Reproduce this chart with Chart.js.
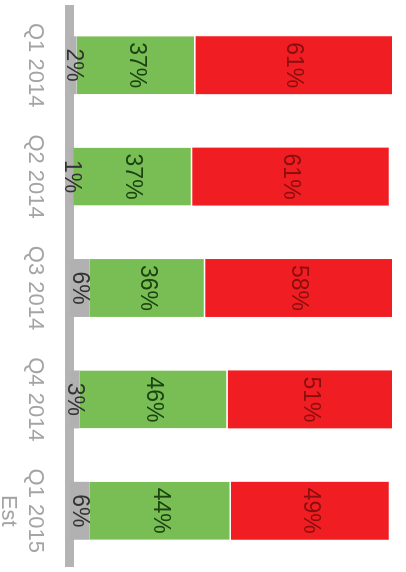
<!DOCTYPE html>
<html>
<head>
<meta charset="utf-8">
<script src="https://cdn.jsdelivr.net/npm/chart.js@4.4.0/dist/chart.umd.min.js"></script>
<style>
  html, body { margin: 0; padding: 0; background: #fff; overflow: hidden; }
  /* column chart, turned a quarter turn clockwise */
  .chart-wrap {
    position: absolute;
    left: 0;
    top: 0;
    width: 575px;
    height: 406px;
    transform-origin: 0 0;
    transform: translateX(406px) rotate(90deg);
  }
</style>
</head>
<body>
<div class="chart-wrap"><canvas id="quarterChart" width="575" height="406"></canvas></div>
<script>
// Quarterly split, percent of total
const quarters = ["Q1 2014", "Q2 2014", "Q3 2014", "Q4 2014", ["Q1 2015", "Est"]];
const neutralShare = [2, 1, 6, 3, 6];
const positiveShare = [37, 37, 36, 46, 44];
const negativeShare = [61, 61, 58, 51, 49];

const barColors = ["#b1b1b1", "#78be55", "#f01e23"];
const labelColors = ["#333333", "#1b4210", "#8a0e0e"];

// percent labels in the middle of each segment
const valueLabels = {
  id: "valueLabels",
  afterDatasetsDraw(chart) {
    const ctx = chart.ctx;
    ctx.save();
    ctx.font = "23px 'Liberation Sans', Arial, sans-serif";
    ctx.textAlign = "center";
    ctx.textBaseline = "middle";
    chart.data.datasets.forEach((ds, i) => {
      const meta = chart.getDatasetMeta(i);
      meta.data.forEach((bar, j) => {
        const mid = (bar.y + bar.base) / 2;
        ctx.fillStyle = labelColors[i];
        ctx.fillText(ds.data[j] + "%", bar.x, mid);
      });
    });
    ctx.restore();
  }
};

new Chart(document.getElementById("quarterChart"), {
  type: "bar",
  data: {
    labels: quarters,
    datasets: [
      { data: neutralShare, backgroundColor: barColors[0] },
      {
        data: positiveShare,
        backgroundColor: barColors[1],
        borderColor: "#ffffff",
        borderWidth: { top: 1.5, bottom: 0, left: 0, right: 0 },
        borderSkipped: false
      },
      { data: negativeShare, backgroundColor: barColors[2] }
    ]
  },
  options: {
    responsive: false,
    animation: false,
    layout: { padding: { top: 14, left: 9.5, right: 0, bottom: 0 } },
    datasets: {
      bar: { categoryPercentage: 1, barPercentage: 0.52 }
    },
    plugins: {
      legend: { display: false },
      tooltip: { enabled: false }
    },
    scales: {
      x: {
        stacked: true,
        grid: { display: false, drawTicks: false },
        border: { display: true, color: "#b4b4b4", width: 9 },
        ticks: {
          color: "#a4a4a4",
          padding: 22,
          font: { family: "'Liberation Sans', Arial, sans-serif", size: 22 }
        },
        afterFit(scale) { scale.height = 70; }
      },
      y: {
        stacked: true,
        display: false,
        min: 0,
        max: 100
      }
    }
  },
  plugins: [valueLabels]
});
</script>
</body>
</html>
